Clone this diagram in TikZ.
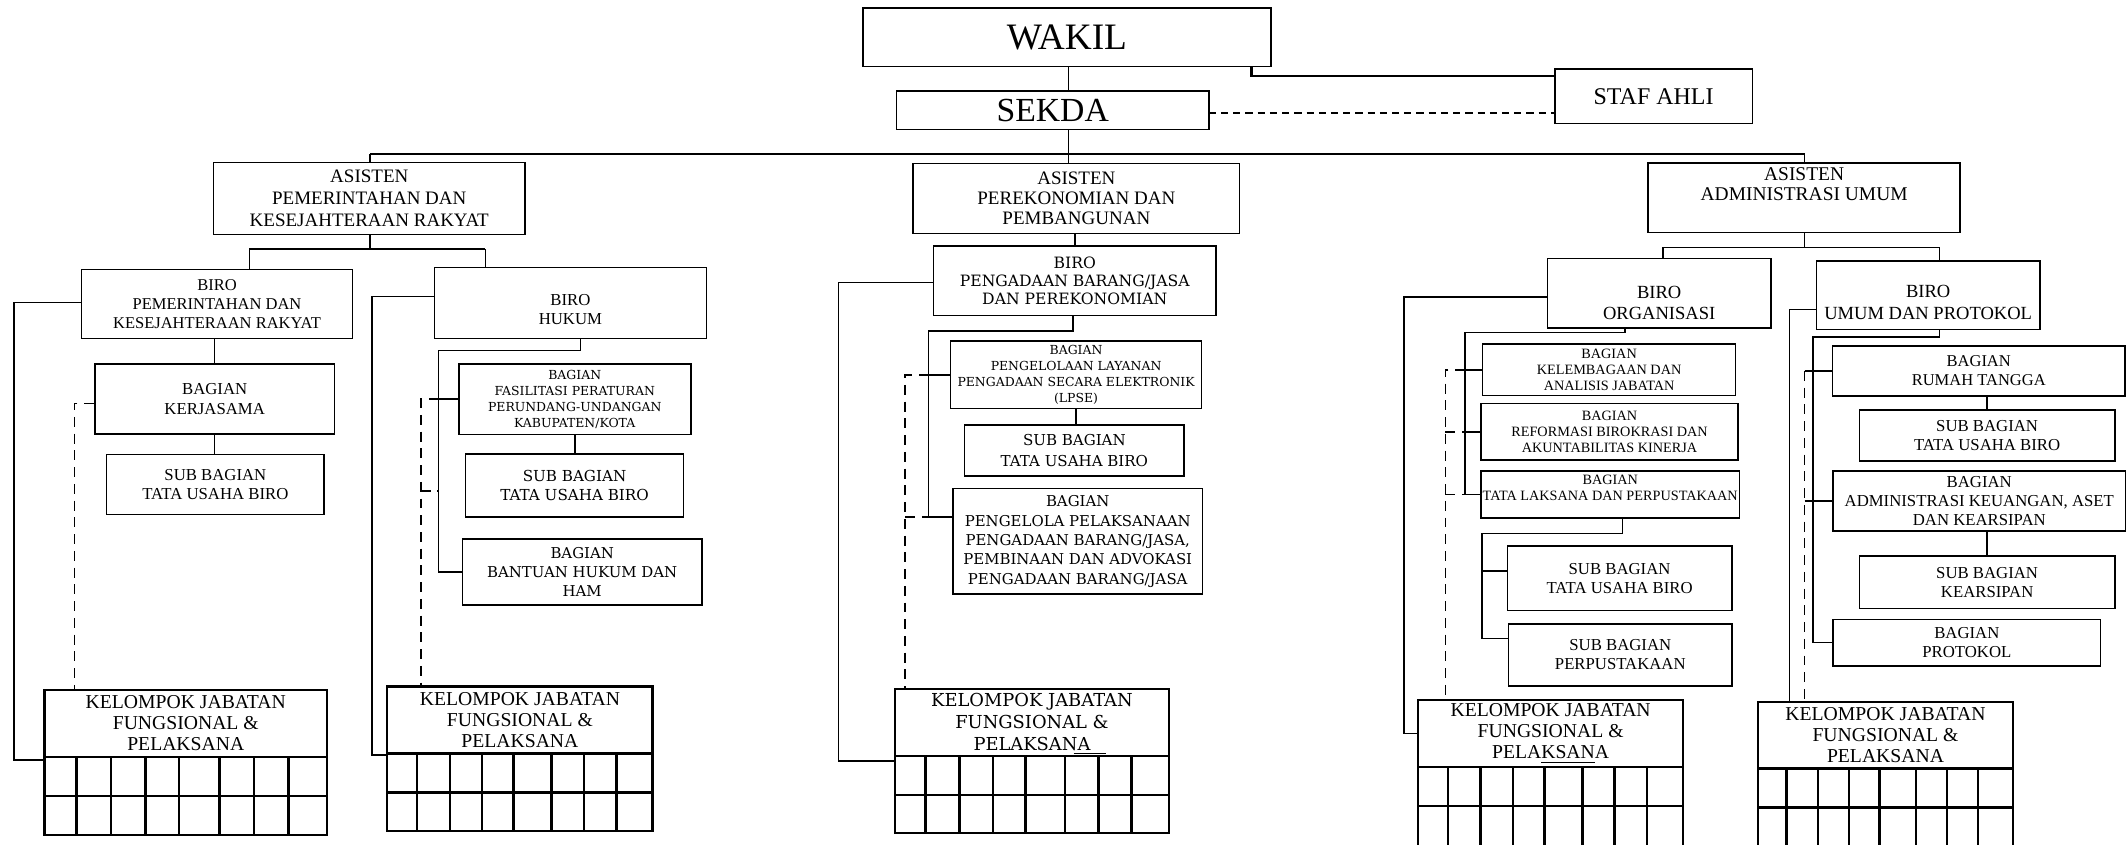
\documentclass[tikz,border=0pt]{standalone}
\usepackage{fontspec}
\setmainfont{Liberation Serif}
\newfontfamily\widefont{DejaVu Serif}
\usetikzlibrary{calc}
\newcommand{\fsz}[2]{\fontsize{#1pt}{#2pt}\selectfont}
\newcommand{\bx}[7][]{\node[box,#1,minimum width={(#5-#3)*0.6pt},minimum height={(#6-#4)*0.6pt}] (#2) at ({(#3+#5)/2},{(#4+#6)/2}) {#7};}
\newcommand{\kel}[9][]{%
  \node[kbox,#1,minimum width={(#5-#3)*0.6pt},minimum height={(#6-#4)*0.6pt}] (#2) at ({(#3+#5)/2},{(#4+#6)/2}) {#9};
  \draw[kgrid] (#3,#6) rectangle (#5,#8);
  \draw[kgrid] (#3,#7) -- (#5,#7);
  \foreach \f in {0.1125,0.2358,0.3577,0.4764,0.6195,0.7415,0.8634}{\draw[kgrid] ({#3+\f*(#5-#3)},#6) -- ({#3+\f*(#5-#3)},#8);}
}
\tikzset{
  box/.style={draw, line width=0.7pt, inner sep=0pt, align=center},
  kbox/.style={draw, line width=1.1pt, inner sep=0pt, align=center, font={\fsz{8.7}{9.3}}},
  kgrid/.style={line width=1.1pt},
  conn/.style={line width=0.7pt},
  vdash/.style={line width=0.7pt, dash pattern=on 4.4pt off 3pt},
  sdash/.style={line width=0.9pt, dash pattern=on 3.2pt off 2.2pt},
  fA/.style={font={\fsz{8.4}{9.6}}},
  fB/.style={font={\fsz{7.4}{8.5}}},
  fS/.style={font={\fsz{6.3}{6.9}}},
  fO/.style={font={\fsz{8.2}{9.4}}},
}
\begin{document}
\begin{tikzpicture}[x=0.6pt,y=-0.6pt]
\useasboundingbox (0,0) rectangle (1568,622);
\clip (0,0) rectangle (1568,622);
% top
\bx[font={\fsz{16.5}{18}}]{wakil}{635.9}{6.1}{936.3}{49.1}{WAKIL}
\bx[font={\fsz{14.9}{16}}]{sekda}{660.7}{67.1}{890.7}{95.3}{SEKDA}
\bx[font={\fsz{10.6}{12}}]{staf}{1145.6}{50.9}{1291.3}{90.9}{STAF AHLI}
\bx[fA]{apkr}{157.4}{119.8}{386.8}{172.7}{ASISTEN\\PEMERINTAHAN DAN\\KESEJAHTERAAN RAKYAT}
\bx[font={\fsz{8.4}{8.8}}]{app}{672.9}{120.4}{913.3}{172}{ASISTEN\\PEREKONOMIAN DAN\\PEMBANGUNAN}
\bx[font={\fsz{8.6}{9}}]{aau}{1214.4}{119.9}{1444.3}{171.3}{ASISTEN\\ADMINISTRASI UMUM\rule[-12pt]{0pt}{12pt}}
% left branch
\bx[font={\fsz{7.3}{8.4}}]{bpkr}{60.2}{198.5}{259.6}{249.3}{BIRO\\PEMERINTAHAN DAN\\KESEJAHTERAAN RAKYAT}
\bx[font={\fsz{7.4}{8.4}}]{bhuk}{320.1}{197.2}{520.5}{249.3}{\rule{0pt}{10.3pt}BIRO\\HUKUM}
\bx[fB]{kerja}{70}{268.2}{246.4}{319.8}{BAGIAN\\KERJASAMA}
\bx[fB]{sub1}{78.5}{334.8}{238.9}{379}{SUB BAGIAN\\TATA USAHA BIRO}
\bx[font={\widefont\fsz{5.5}{7.1}}]{fasil}{338}{268.3}{509}{320.1}{BAGIAN\\FASILITASI PERATURAN\\PERUNDANG-UNDANGAN\\KABUPATEN/KOTA}
\bx[font={\widefont\fsz{6.7}{8.5}}]{sub2}{343.1}{334.6}{503.6}{380.8}{SUB BAGIAN\\TATA USAHA BIRO}
\bx[font={\widefont\fsz{6.6}{8.4}}]{bant}{340.7}{397}{517.3}{445.8}{BAGIAN\\BANTUAN HUKUM DAN\\HAM}
% middle branch
\bx[font={\widefont\fsz{6.9}{8.0}}]{bpbj}{687.8}{181.3}{896}{232.4}{BIRO\\PENGADAAN BARANG/JASA\\DAN PEREKONOMIAN}
\bx[font={\widefont\fsz{5.5}{7.2}}]{lpse}{700.4}{251.3}{885.4}{301}{BAGIAN\\PENGELOLAAN LAYANAN\\PENGADAAN SECARA ELEKTRONIK\\(LPSE)}
\bx[font={\widefont\fsz{6.65}{9.1}}]{sub3}{710.7}{313.3}{872.6}{350.9}{SUB BAGIAN\\TATA USAHA BIRO}
\bx[font={\widefont\fsz{6.6}{8.55}}]{peng}{702.1}{360}{886.1}{437.8}{BAGIAN\\PENGELOLA PELAKSANAAN\\PENGADAAN BARANG/JASA,\\PEMBINAAN DAN ADVOKASI\\PENGADAAN BARANG/JASA}
% right branch
\bx[fO]{borg}{1140.3}{190.4}{1304.8}{241.5}{\rule{0pt}{14.4pt}BIRO\\ORGANISASI}
\bx[fO]{bup}{1338.5}{192.1}{1503}{242.8}{\rule{0pt}{12pt}BIRO\\UMUM DAN PROTOKOL}
\bx[fS]{kel}{1092.5}{253.6}{1278.8}{291.4}{BAGIAN\\KELEMBAGAAN DAN\\ANALISIS JABATAN}
\bx[fS]{refo}{1091.4}{297.3}{1280.5}{339.1}{BAGIAN\\REFORMASI BIROKRASI DAN\\AKUNTABILITAS KINERJA}
\bx[fS]{tl}{1091.4}{346.9}{1281.6}{381.6}{BAGIAN\\TATA LAKSANA DAN PERPUSTAKAAN\rule[-6pt]{0pt}{6pt}}
\bx[fB]{sub4}{1110.7}{402.4}{1276}{449.8}{SUB BAGIAN\\TATA USAHA BIRO}
\bx[fB]{perp}{1111.5}{459.7}{1276.3}{505.4}{SUB BAGIAN\\PERPUSTAKAAN}
\bx[font={\fsz{7.3}{8.5}}]{rt}{1350.1}{254.8}{1565.9}{291.9}{BAGIAN\\RUMAH TANGGA}
\bx[fB]{sub5}{1370.2}{302.2}{1558.2}{339.8}{SUB BAGIAN\\TATA USAHA BIRO}
\bx[font={\fsz{7.4}{8.4}}]{adm}{1350.8}{347.2}{1566}{391.1}{BAGIAN\\ADMINISTRASI KEUANGAN, ASET\\DAN KEARSIPAN}
\bx[fB]{kears}{1370.2}{409.5}{1558.2}{448.4}{SUB BAGIAN\\KEARSIPAN}
\bx[fB]{prot}{1350.8}{456.5}{1547.7}{490.6}{BAGIAN\\PROTOKOL}
% kelompok
\kel{k1}{32.8}{508.5}{241}{557.6}{586.6}{615.4}{KELOMPOK JABATAN\\FUNGSIONAL \&\\PELAKSANA}
\kel{k2}{285.3}{506}{480.9}{555.2}{583.9}{612.2}{KELOMPOK JABATAN\\FUNGSIONAL \&\\PELAKSANA}
\kel[font={\widefont\fsz{7.9}{9.7}}]{k3}{659.3}{507.5}{861.5}{556.9}{585.9}{613.6}{KELOMPOK JABATAN\\FUNGSIONAL \&\\PELAKSANA}
\kel{k4}{1045}{515.9}{1240.1}{565}{593.8}{626}{KELOMPOK JABATAN\\FUNGSIONAL \&\\PELA\underline{KSAN}A}
\kel{k5}{1295.3}{517.2}{1483.3}{566.3}{595}{627}{KELOMPOK JABATAN\\FUNGSIONAL \&\\PELAKSANA}
\draw[line width=0.6pt] (791,555) -- (815,555);
% top connectors
\coordinate (busL) at (272.8,113.3);
\coordinate (busR) at (1329.7,113.3);
\coordinate (busM) at (787.4,113.3);
\draw[conn] (wakil.south -| busM) -- (sekda.north -| busM);
\draw[conn] (sekda.south -| busM) -- (busM);
\draw[conn] (busL) -- (busR);
\draw[conn] (busL) -- (apkr.north -| busL);
\draw[conn] (busM) -- (app.north -| busM);
\draw[conn] (busR) -- (aau.north -| busR);
\coordinate (ws) at (922.3,56);
\draw[line width=1.1pt] (wakil.south -| ws) -- (ws) -- (staf.west |- ws);
\coordinate (sd) at (890.7,83.5);
\draw[sdash] (sd) -- (staf.west |- sd);
% left connectors
\coordinate (h1L) at (183.8,183.5);
\coordinate (h1R) at (357.7,183.5);
\draw[conn] (apkr.south -| busL) -- (busL |- h1L);
\draw[conn] (h1L) -- (h1R);
\draw[conn] (h1L) -- (bpkr.north -| h1L);
\draw[conn] (h1R) -- (bhuk.north -| h1R);
\coordinate (l1) at (10.2,223);
\coordinate (l1b) at (32.8,560);
\draw[conn] (bpkr.west |- l1) -- (l1) |- (l1b);
\draw[conn] (kerja.north |- bpkr.south) -- (kerja.north);
\draw[conn] (kerja.south) -- (sub1.north -| kerja.south);
\coordinate (d1) at (54.8,297.2);
\draw[vdash] (kerja.west |- d1) -- (d1) -- (d1 |- k1.north);
\coordinate (l2) at (274.1,218.6);
\draw[conn] (bhuk.west |- l2) -- (l2) |- (k2.south west);
\coordinate (hT) at (427.7,258.4);
\coordinate (hV) at (323.2,258.4);
\draw[conn] (hT |- bhuk.south) -- (hT) -- (hV) |- (bant.west);
\draw[conn] (hV |- fasil.west) -- (fasil.west);
\draw[conn] (fasil.south) -- (sub2.north -| fasil.south);
\coordinate (d2) at (310,292.4);
\coordinate (d2b) at (310,361.7);
\draw[vdash] (hV |- fasil.west) -- (d2 |- fasil.west) -- (d2 |- k2.north);
\draw[vdash] (d2b) -- (hV |- d2b);
% middle connectors
\draw[conn] (app.south -| bpbj.north) -- (bpbj.north);
\coordinate (l3) at (617.8,208.1);
\coordinate (l3b) at (659.3,560.8);
\draw[conn] (bpbj.west |- l3) -- (l3) |- (l3b);
\coordinate (pT) at (790.5,243.7);
\coordinate (pV) at (684.2,243.7);
\coordinate (pS) at (702.1,380.8);
\draw[conn] (pT |- bpbj.south) -- (pT) -- (pV) |- (pS);
\draw[conn] (pV |- lpse.west) -- (lpse.west);
\draw[conn] (lpse.south) -- (sub3.north -| lpse.south);
\coordinate (d3) at (667,273.2);
\draw[vdash] (pV |- lpse.west) -- (d3 |- lpse.west) -- (d3 |- k3.north);
\draw[vdash] (d3 |- pS) -- (pV |- pS);
% right connectors
\coordinate (rL) at (1225.3,182.3);
\coordinate (rR) at (1429.2,182.3);
\draw[conn] (aau.south -| busR) -- (busR |- rL);
\draw[conn] (rL) -- (rR);
\draw[conn] (rL) -- (borg.north -| rL);
\draw[conn] (rR) -- (bup.north -| rR);
\coordinate (l4) at (1034.5,218.7);
\draw[conn] (borg.west |- l4) -- (l4) |- (k4.west);
\coordinate (oT) at (1197.2,245);
\coordinate (oV) at (1079.5,245);
\draw[conn] (oT |- borg.south) -- (oT) -- (oV) |- (tl.west);
\draw[conn] (oV |- kel.west) -- (kel.west);
\draw[conn] (oV |- refo.west) -- (refo.west);
\coordinate (d4) at (1065,269);
\draw[vdash] (oV |- kel.west) -- (d4 |- kel.west) -- (d4 |- k4.north);
\draw[vdash] (d4 |- refo.west) -- (oV |- refo.west);
\draw[vdash] (d4 |- tl.west) -- (oV |- tl.west);
\coordinate (tT) at (1195.5,393.1);
\coordinate (tV) at (1091.8,393.1);
\coordinate (tS1) at (1110.7,420.8);
\coordinate (tS2) at (1111.5,470.5);
\draw[conn] (tT |- tl.south) -- (tT) -- (tV) |- (tS2);
\draw[conn] (tV |- tS1) -- (tS1);
\coordinate (l5) at (1318.5,228);
\draw[conn] (bup.west |- l5) -- (l5) -- (l5 |- k5.north);
\coordinate (uT) at (1429.2,248.2);
\coordinate (uV) at (1336,248.2);
\draw[conn] (uT |- bup.south) -- (uT) -- (uV) |- (prot.west);
\coordinate (d5) at (1329.7,272);
\draw[conn] (d5 |- rt.west) -- (rt.west);
\draw[conn] (d5 |- adm.west) -- (adm.west);
\draw[vdash] (d5 |- rt.west) -- (d5 |- k5.north);
\draw[conn] (sub5.north |- rt.south) -- (sub5.north);
\draw[conn] (kears.north |- adm.south) -- (kears.north);
\end{tikzpicture}
\end{document}
